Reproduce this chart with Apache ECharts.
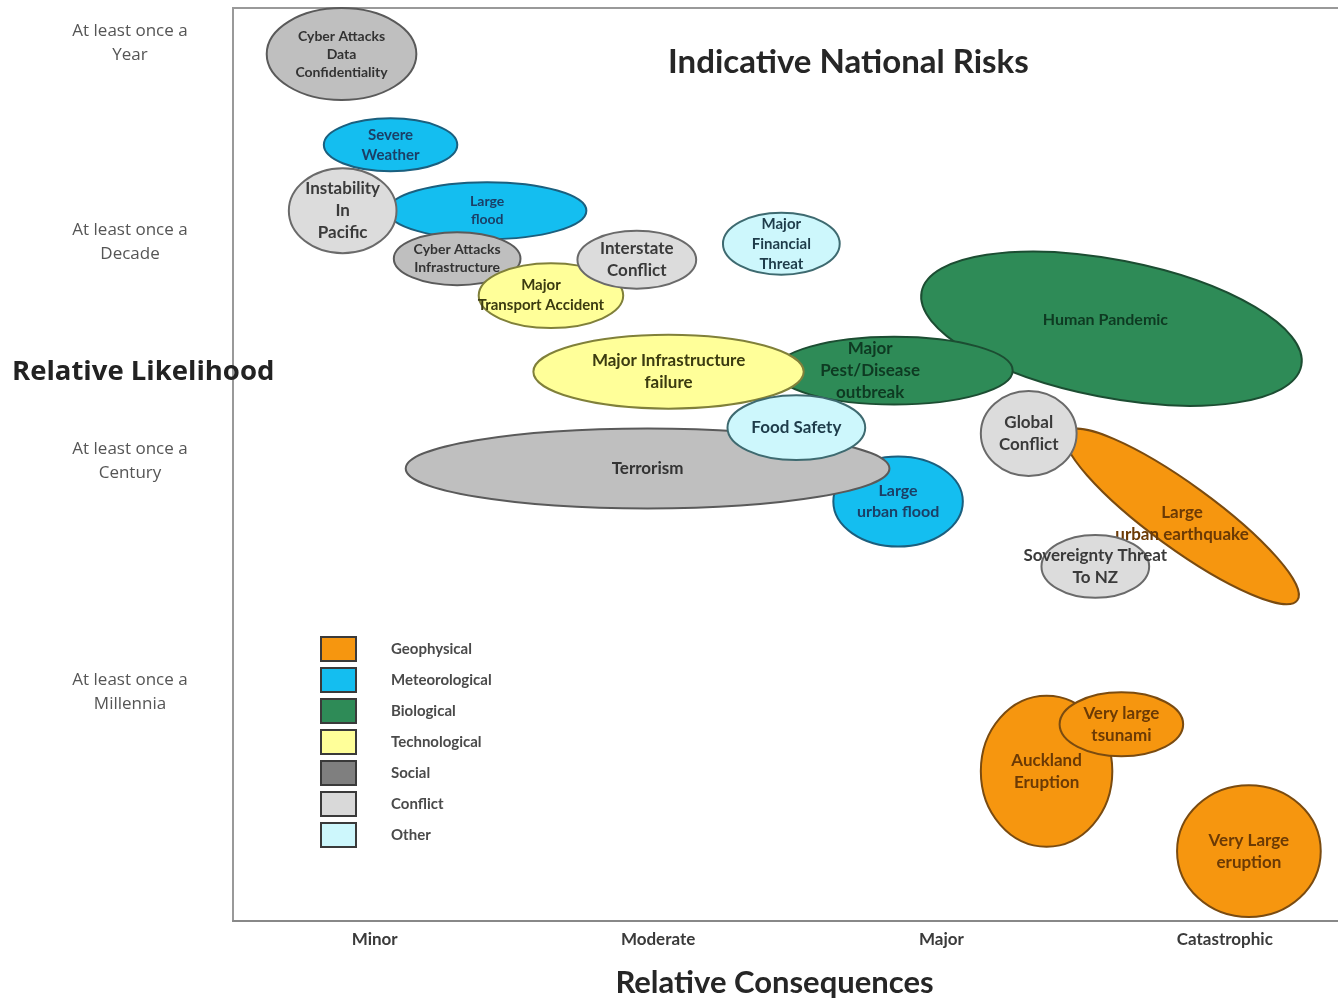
<!DOCTYPE html>
<html>
<head>
<meta charset="utf-8">
<title>Indicative National Risks</title>
<script src="https://cdn.jsdelivr.net/npm/echarts@6/dist/echarts.min.js"></script>
<style>
  html, body { margin: 0; padding: 0; background: #fff; }
  #chart { width: 1338px; height: 999px; }
</style>
</head>
<body>
<div id="chart"></div>
<script>
// axis levels
var consequenceLevels = ['Minor', 'Moderate', 'Major', 'Catastrophic'];
var consequenceTicks = [1, 2, 3, 4];
var likelihoodLevels = ['At least once a\nMillennia', 'At least once a\nCentury', 'At least once a\nDecade', 'At least once a\nYear'];
var likelihoodTicks = [0.96, 2.03, 3.04, 3.96];

var categories = ['Geophysical', 'Meteorological', 'Biological', 'Technological', 'Social', 'Conflict', 'Other'];

// risks, in drawing order (later ones sit on top)
var riskNames = [
  'Cyber Attacks\nData\nConfidentiality',
  'Severe\nWeather',
  'Large\nflood',
  'Instability\nIn\nPacific',
  'Cyber Attacks\nInfrastructure',
  'Major\nTransport Accident',
  'Interstate\nConflict',
  'Major\nFinancial\nThreat',
  'Human Pandemic',
  'Major\nPest/Disease\noutbreak',
  'Major Infrastructure\nfailure',
  'Large\nurban flood',
  'Terrorism',
  'Food Safety',
  'Large\nurban earthquake',
  'Global\nConflict',
  'Sovereignty Threat\nTo NZ',
  'Auckland\nEruption',
  'Very large\ntsunami',
  'Very Large\neruption'
];
var riskCategory = [
  'Social', 'Meteorological', 'Meteorological', 'Conflict', 'Social',
  'Technological', 'Conflict', 'Other', 'Biological', 'Biological',
  'Technological', 'Meteorological', 'Social', 'Other', 'Geophysical',
  'Conflict', 'Conflict', 'Geophysical', 'Geophysical', 'Geophysical'
];
// centre of each risk (consequence 1..4, likelihood 1..4)
var consequence = [0.883, 1.056, 1.397, 0.887, 1.291, 1.622, 1.925, 2.435, 3.600, 2.833,
                   2.037, 2.847, 1.963, 2.488, 3.849, 3.308, 3.543, 3.371, 3.635, 4.085];
var likelihood  = [3.912, 3.492, 3.187, 3.187, 2.965, 2.794, 2.960, 3.034, 2.641, 2.447,
                   2.442, 1.841, 1.994, 2.183, 1.772, 2.156, 1.541, 0.593, 0.810, 0.223];
// uncertainty range of each risk
var consequenceSpread = [0.528, 0.471, 0.700, 0.380, 0.447, 0.510, 0.419, 0.412, 1.365, 0.837,
                         0.954, 0.457, 1.707, 0.486, 1.006, 0.338, 0.380, 0.464, 0.436, 0.507];
var likelihoodSpread  = [0.425, 0.245, 0.264, 0.393, 0.245, 0.300, 0.268, 0.287, 0.638, 0.314,
                         0.342, 0.416, 0.370, 0.300, 0.296, 0.393, 0.291, 0.698, 0.296, 0.610];
var tilt = [0, 0, 0, 0, 0, 0, 0, 0, 11, 0, 0, 0, 0, 0, 36, 0, 0, 0, 0, 0];

// styling
var fillColors   = ['#F6960F', '#14BEF0', '#2E8B57', '#FFFF99', '#BFBFBF', '#DCDCDC', '#CDF7FC'];
var strokeColors = ['#7A4B10', '#1B5F7E', '#1C4D32', '#80803A', '#5A5A5A', '#6A6A6A', '#3E6A70'];
var textColors   = ['#6B3A05', '#1B3F66', '#0E3A22', '#3B3B10', '#333333', '#3A3A3A', '#1E3C4A'];
var legendColors = ['#F6960F', '#14BEF0', '#2E8B57', '#FFFF99', '#7F7F7F', '#D9D9D9', '#CDF7FC'];
var labelSize = {
  'Cyber Attacks\nData\nConfidentiality': 14,
  'Severe\nWeather': 15,
  'Large\nflood': 14,
  'Cyber Attacks\nInfrastructure': 14,
  'Major\nTransport Accident': 15,
  'Major\nFinancial\nThreat': 15,
  'Human Pandemic': 16,
  'Large\nurban flood': 16
};
var labelShift = {
  'Major\nPest/Disease\noutbreak': [-24, 0],
  'Human Pandemic': [-6, -9],
  'Large\nurban earthquake': [0, 7],
  'Major\nTransport Accident': [-10, 0]
};

var chart = echarts.init(document.getElementById('chart'));

function renderRisk(params, api) {
  var i = params.dataIndex;
  var k = categories.indexOf(riskCategory[i]);
  var c = api.coord([api.value(0), api.value(1)]);
  var s = api.size([api.value(2), api.value(3)]);
  var fs = labelSize[riskNames[i]] || 17;
  var sh = labelShift[riskNames[i]] || [0, 0];
  return {
    type: 'group',
    children: [{
      type: 'ellipse',
      x: c[0],
      y: c[1],
      rotation: -api.value(4) * Math.PI / 180,
      shape: { cx: 0, cy: 0, rx: s[0] / 2, ry: s[1] / 2 },
      style: { fill: fillColors[k], stroke: strokeColors[k], lineWidth: 2 }
    }, {
      type: 'text',
      x: c[0] + sh[0],
      y: c[1] + sh[1],
      style: {
        text: riskNames[i],
        fill: textColors[k],
        font: 'bold ' + fs + 'px Lato',
        align: 'center',
        verticalAlign: 'middle',
        lineHeight: Math.round(fs * 1.3)
      }
    }]
  };
}

var series = categories.map(function (c, k) {
  return { name: c, type: 'scatter', data: [], itemStyle: { color: legendColors[k], opacity: 1 } };
});
series.push({
  name: 'risks',
  type: 'custom',
  clip: false,
  animation: false,
  renderItem: renderRisk,
  encode: { x: 0, y: 1 },
  data: riskNames.map(function (n, i) {
    return [consequence[i], likelihood[i], consequenceSpread[i], likelihoodSpread[i], tilt[i]];
  })
});

var option = {
  backgroundColor: '#fff',
  animation: false,
  title: {
    text: 'Indicative National Risks',
    left: 668,
    top: 46,
    padding: 0,
    textStyle: { fontFamily: 'Lato', fontSize: 33, fontWeight: 'bold', color: '#262626' }
  },
  grid: {
    left: 233, top: 8, right: -3, bottom: 78,
    containLabel: false,
    outerBoundsMode: 'none',
    show: true, borderColor: '#999', borderWidth: 2
  },
  legend: {
    orient: 'vertical',
    left: 320,
    top: 636,
    padding: 0,
    itemWidth: 35,
    itemHeight: 24,
    itemGap: 5,
    icon: 'rect',
    selectedMode: false,
    textStyle: { fontFamily: 'Lato', fontSize: 15, fontWeight: 'bold', color: '#4a4a4a', padding: [0, 0, 0, 30] },
    data: categories.map(function (c, k) {
      return { name: c, itemStyle: { color: legendColors[k], opacity: 1, borderColor: '#3a3a3a', borderWidth: 2 } };
    })
  },
  xAxis: {
    type: 'value',
    min: 0.5,
    max: 4.41,
    splitLine: { show: false },
    axisTick: { show: false },
    axisLine: { show: true, onZero: false, lineStyle: { color: '#888', width: 2 } },
    axisLabel: {
      customValues: consequenceTicks,
      formatter: function (v) { return consequenceLevels[consequenceTicks.indexOf(v)]; },
      margin: 10,
      fontFamily: 'Lato',
      fontSize: 17,
      fontWeight: 'bold',
      color: '#3a3a3a'
    },
    name: 'Relative Consequences',
    nameLocation: 'middle',
    nameGap: 46,
    nameTextStyle: { fontFamily: 'Lato', fontSize: 31, fontWeight: 'bold', color: '#262626', padding: [0, 25, 0, 0] }
  },
  yAxis: {
    type: 'value',
    min: -0.1,
    max: 4.125,
    splitLine: { show: false },
    axisTick: { show: false },
    axisLine: { show: false },
    axisLabel: {
      customValues: likelihoodTicks,
      formatter: function (v) { return likelihoodLevels[likelihoodTicks.indexOf(v)]; },
      align: 'center',
      margin: 103,
      fontFamily: 'Open Sans',
      fontSize: 17,
      lineHeight: 24,
      color: '#555'
    }
  },
  graphic: [{
    type: 'text',
    left: 12,
    top: 358,
    z: 100,
    style: { text: 'Relative Likelihood', font: 'bold 27.5px "Open Sans"', fill: '#222' }
  }],
  series: series
};

chart.setOption(option);
</script>
</body>
</html>
